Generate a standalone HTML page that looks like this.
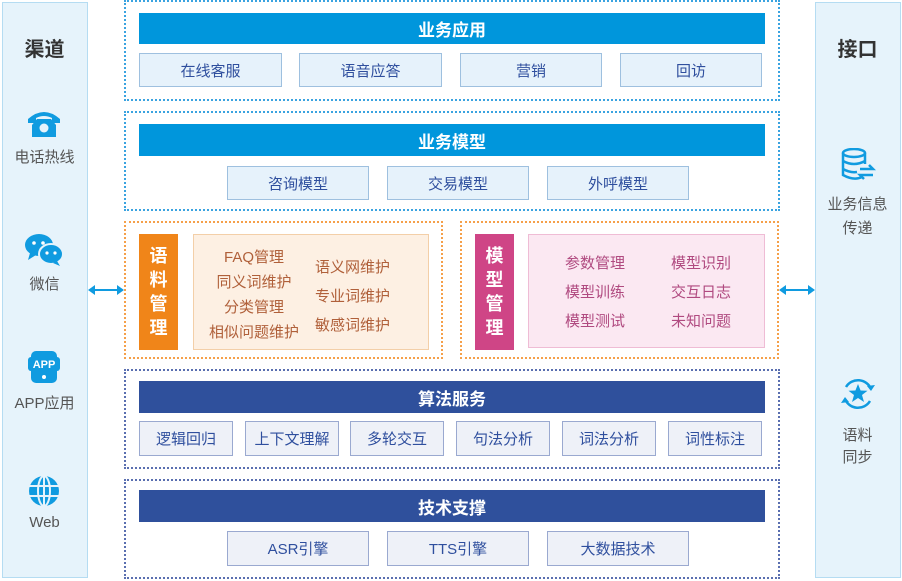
<!DOCTYPE html>
<html><head><meta charset="utf-8"><style>
*{margin:0;padding:0;box-sizing:border-box}
body{width:902px;height:581px;background:#fff;position:relative;overflow:hidden;font-family:"Liberation Sans","Noto Sans CJK SC",sans-serif}
.a{position:absolute}
.side{background:#e6f3fb;border:1px solid #b5dcf2}
.t{display:flex;align-items:center;justify-content:center;text-align:center}
.sec{border:2px dotted #3aa3e0}
.sec2{border:2px dotted #5a6fb0}
.seco{border:2px dotted #f5a04a}
.bar{background:#0096dc;color:#fff;font-weight:bold;font-size:17px}
.bar2{background:#2f509c;color:#fff;font-weight:bold;font-size:17px}
.box{background:#e6f2fb;border:1px solid #9ec0df;color:#2f4f9e;font-size:15px}
.box2{background:#eef1f8;border:1px solid #9aa9d0;color:#2f4f9e;font-size:15px}
.lbl{color:#555;font-size:15px;width:85px;text-align:center}
.ttl{color:#333;font-size:20px;font-weight:bold;width:85px;text-align:center}
.or{color:#b0603a;font-size:15px}
.pk{color:#b04a80;font-size:15px}
</style></head><body>
<div class="a side" style="left:2px;top:2px;width:86px;height:576px"></div>
<div class="a side" style="left:815px;top:2px;width:86px;height:576px"></div>
<div class="a ttl" style="left:2px;top:33px">渠道</div>
<div class="a ttl" style="left:815px;top:33px">接口</div>
<svg class="a" style="left:27px;top:108px" width="34" height="30" viewBox="0 0 34 30"><path d="M1 11 Q17 -3 33 11 L33 15 L25 15 L25 10 Q17 6 9 10 L9 15 L1 15Z" fill="#109be0"/><path d="M5 17 L10 11 L24 11 L29 17 L29 29 L5 29Z" fill="#109be0"/><circle cx="17" cy="20" r="4.5" fill="#e6f3fb"/></svg>
<div class="a lbl" style="left:2px;top:146px">电话热线</div>
<svg class="a" style="left:24px;top:233px" width="40" height="34" viewBox="0 0 40 34"><ellipse cx="15" cy="12" rx="14" ry="11" fill="#109be0"/><path d="M6 20 L4 27 L12 22Z" fill="#109be0"/><ellipse cx="27" cy="21" rx="12" ry="10" fill="#109be0" stroke="#e6f3fb" stroke-width="2"/><path d="M33 28 L36 33 L29 30Z" fill="#109be0"/><circle cx="10" cy="10" r="1.8" fill="#fff"/><circle cx="19" cy="10" r="1.8" fill="#fff"/><circle cx="23" cy="20" r="1.6" fill="#fff"/><circle cx="31" cy="20" r="1.6" fill="#fff"/></svg>
<div class="a lbl" style="left:2px;top:273px">微信</div>
<svg class="a" style="left:28px;top:350px" width="32" height="34" viewBox="0 0 32 34"><rect x="3" y="1" width="26" height="32" rx="5" fill="#109be0"/><rect x="0" y="7" width="32" height="14" rx="3" fill="#109be0"/><text x="16" y="18" font-size="11" font-weight="bold" fill="#fff" text-anchor="middle" font-family="Liberation Sans">APP</text><circle cx="16" cy="27" r="2" fill="#fff"/></svg>
<div class="a lbl" style="left:2px;top:392px">APP应用</div>
<svg class="a" style="left:28px;top:475px" width="32" height="32" viewBox="0 0 32 32"><circle cx="16" cy="16" r="15" fill="#109be0"/><g stroke="#e6f3fb" stroke-width="2" fill="none"><ellipse cx="16" cy="16" rx="6" ry="15"/><line x1="16" y1="1" x2="16" y2="31"/><line x1="1" y1="11" x2="31" y2="11"/><line x1="1" y1="21" x2="31" y2="21"/></g></svg>
<div class="a lbl" style="left:2px;top:514px">Web</div>
<svg class="a" style="left:840px;top:148px" width="36" height="34" viewBox="0 0 36 34"><g stroke="#109be0" stroke-width="2.5" fill="none"><ellipse cx="14" cy="5" rx="11" ry="4"/><path d="M3 5 V27 Q14 33 22 29"/><path d="M25 5 V16"/><path d="M3 13 Q14 19 25 13"/><path d="M3 21 Q10 25 17 24"/><path d="M20 21 H33 L29 17"/><path d="M33 27 H20 L24 31"/></g></svg>
<div class="a lbl" style="left:815px;top:193px">业务信息</div>
<div class="a lbl" style="left:815px;top:217px">传递</div>
<svg class="a" style="left:840px;top:377px" width="36" height="34" viewBox="0 0 36 34"><g stroke="#109be0" stroke-width="2.5" fill="none"><path d="M6 10 A14 14 0 0 1 31 12"/><path d="M30 24 A14 14 0 0 1 5 22"/></g><path d="M31 14 L35 8 L27 9Z M5 20 L1 26 L9 25Z" fill="#109be0"/><path d="M18 7 L20.6 13.5 L27.5 13.8 L22 18 L24 25 L18 21 L12 25 L14 18 L8.5 13.8 L15.4 13.5Z" fill="#109be0"/></svg>
<div class="a lbl" style="left:815px;top:424px">语料</div>
<div class="a lbl" style="left:815px;top:446px">同步</div>

<svg class="a" style="left:86px;top:283px" width="40" height="14"><line x1="5" y1="7" x2="35" y2="7" stroke="#109be0" stroke-width="2"/><path d="M2 7 L9 2 L9 12Z M38 7 L31 2 L31 12Z" fill="#109be0"/></svg>
<svg class="a" style="left:777px;top:283px" width="40" height="14"><line x1="5" y1="7" x2="35" y2="7" stroke="#109be0" stroke-width="2"/><path d="M2 7 L9 2 L9 12Z M38 7 L31 2 L31 12Z" fill="#109be0"/></svg>

<div class="a sec" style="left:124px;top:0px;width:656px;height:101px"></div>
<div class="a t bar" style="left:139px;top:13px;width:626px;height:31px">业务应用</div>
<div class="a t box" style="left:139px;top:53px;width:143px;height:34px">在线客服</div>
<div class="a t box" style="left:299px;top:53px;width:143px;height:34px">语音应答</div>
<div class="a t box" style="left:460px;top:53px;width:142px;height:34px">营销</div>
<div class="a t box" style="left:620px;top:53px;width:142px;height:34px">回访</div>

<div class="a sec" style="left:124px;top:111px;width:656px;height:100px"></div>
<div class="a t bar" style="left:139px;top:124px;width:626px;height:32px">业务模型</div>
<div class="a t box" style="left:227px;top:166px;width:142px;height:34px">咨询模型</div>
<div class="a t box" style="left:387px;top:166px;width:142px;height:34px">交易模型</div>
<div class="a t box" style="left:547px;top:166px;width:142px;height:34px">外呼模型</div>

<div class="a seco" style="left:124px;top:221px;width:319px;height:138px"></div>
<div class="a t" style="left:139px;top:234px;width:39px;height:116px;background:#f08519;color:#fff;font-weight:bold;font-size:18px;line-height:24px">语<br>料<br>管<br>理</div>
<div class="a" style="left:193px;top:234px;width:236px;height:116px;background:#fdf0e3;border:1px solid #f3cfa8"></div>
<div class="a or" style="left:193px;top:245px;width:122px;text-align:center;line-height:25px">FAQ管理<br>同义词维护<br>分类管理<br>相似问题维护</div>
<div class="a or" style="left:305px;top:253px;width:95px;text-align:center;line-height:29px">语义网维护<br>专业词维护<br>敏感词维护</div>

<div class="a seco" style="left:460px;top:221px;width:319px;height:138px"></div>
<div class="a t" style="left:475px;top:234px;width:39px;height:116px;background:#cf4586;color:#fff;font-weight:bold;font-size:18px;line-height:24px">模<br>型<br>管<br>理</div>
<div class="a" style="left:528px;top:234px;width:237px;height:114px;background:#fbe8f2;border:1px solid #efbcd5"></div>
<div class="a pk" style="left:555px;top:249px;width:80px;text-align:center;line-height:29px">参数管理<br>模型训练<br>模型测试</div>
<div class="a pk" style="left:661px;top:249px;width:80px;text-align:center;line-height:29px">模型识别<br>交互日志<br>未知问题</div>

<div class="a sec2" style="left:124px;top:369px;width:656px;height:100px"></div>
<div class="a t bar2" style="left:139px;top:381px;width:626px;height:32px">算法服务</div>
<div class="a t box2" style="left:139px;top:421px;width:94px;height:35px">逻辑回归</div>
<div class="a t box2" style="left:245px;top:421px;width:94px;height:35px">上下文理解</div>
<div class="a t box2" style="left:350px;top:421px;width:94px;height:35px">多轮交互</div>
<div class="a t box2" style="left:456px;top:421px;width:94px;height:35px">句法分析</div>
<div class="a t box2" style="left:562px;top:421px;width:94px;height:35px">词法分析</div>
<div class="a t box2" style="left:668px;top:421px;width:94px;height:35px">词性标注</div>

<div class="a sec2" style="left:124px;top:479px;width:656px;height:100px"></div>
<div class="a t bar2" style="left:139px;top:490px;width:626px;height:32px">技术支撑</div>
<div class="a t box2" style="left:227px;top:531px;width:142px;height:35px">ASR引擎</div>
<div class="a t box2" style="left:387px;top:531px;width:142px;height:35px">TTS引擎</div>
<div class="a t box2" style="left:547px;top:531px;width:142px;height:35px">大数据技术</div>
</body></html>
